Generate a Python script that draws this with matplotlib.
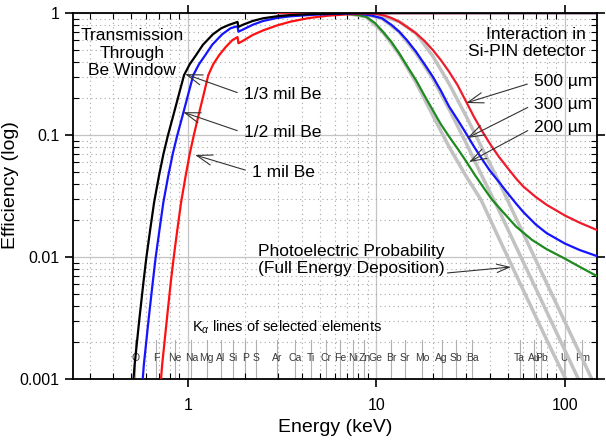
import numpy as np
import matplotlib
matplotlib.use('Agg')
import matplotlib.pyplot as plt
from matplotlib.ticker import LogLocator, NullFormatter

plt.rcParams['font.family'] = ['Liberation Sans', 'DejaVu Sans']
plt.rcParams['mathtext.fontset'] = 'custom'
plt.rcParams['mathtext.rm'] = 'Liberation Sans'
plt.rcParams['mathtext.it'] = 'Liberation Sans:italic'

# Be window transmission, energy in keV
be_third_E = [0.50, 0.52, 0.55, 0.58, 0.60, 0.63, 0.66, 0.70, 0.74, 0.78, 0.83, 0.89, 0.952,
              1.02, 1.10, 1.20, 1.356, 1.50, 1.65, 1.83, 1.85, 1.95, 2.2, 2.5, 2.96, 3.5,
              4.5, 6, 8, 10, 150]
be_third = [0.0006, 0.0013, 0.003, 0.0063, 0.0098, 0.017, 0.028, 0.046, 0.07, 0.098, 0.14,
            0.21, 0.31, 0.38, 0.45, 0.55, 0.67, 0.75, 0.80, 0.845, 0.77, 0.80, 0.86, 0.905,
            0.94, 0.962, 0.98, 0.99, 0.997, 1.0, 1.0]

be_half_E = [0.56, 0.582, 0.616, 0.65, 0.672, 0.706, 0.739, 0.784, 0.829, 0.874, 0.93, 0.997,
             1.066, 1.142, 1.232, 1.344, 1.519, 1.68, 1.83, 1.85, 1.95, 2.2, 2.5, 2.96, 3.5,
             4.5, 6, 8, 10, 150]
be_half = [0.0006, 0.0013, 0.003, 0.0063, 0.0098, 0.017, 0.028, 0.046, 0.07, 0.098, 0.14, 0.21,
           0.31, 0.38, 0.45, 0.55, 0.67, 0.75, 0.78, 0.703, 0.73, 0.80, 0.86, 0.91, 0.94,
           0.965, 0.985, 0.995, 1.0, 1.0]

be_one_E = [0.70, 0.728, 0.77, 0.81, 0.838, 0.878, 0.918, 0.97, 1.02, 1.07, 1.13, 1.205, 1.28,
            1.36, 1.46, 1.59, 1.72, 1.83, 1.85, 1.95, 2.2, 2.5, 2.96, 3.5, 4.4, 5.5, 7, 9, 12,
            150]
be_one = [0.0006, 0.0013, 0.003, 0.0063, 0.0098, 0.017, 0.028, 0.046, 0.07, 0.098, 0.14, 0.21,
          0.31, 0.38, 0.45, 0.53, 0.60, 0.635, 0.565, 0.59, 0.66, 0.72, 0.79, 0.85, 0.91, 0.95,
          0.975, 0.99, 0.998, 1.0]

# Si-PIN interaction efficiency
si500_E = [3, 8, 9, 10, 11, 12, 13.2, 14.5, 16.2, 18, 19.9, 22, 24.3, 27, 29.9, 33, 36.6, 40,
           44.6, 50, 55, 60, 70, 80, 100, 120, 150]
si500 = [1.0, 0.998, 0.993, 0.982, 0.955, 0.91, 0.849, 0.77, 0.682, 0.59, 0.498, 0.41, 0.33,
         0.255, 0.188, 0.14, 0.106, 0.085, 0.0665, 0.053, 0.0441, 0.038, 0.0311, 0.0268,
         0.0219, 0.0191, 0.0165]
si300_E = [3, 7, 8.4, 9.5, 10.7, 12, 13.2, 14.5, 16.2, 18, 19.9, 22, 24.3, 27, 29.9, 33, 36.6,
           40, 44.6, 50, 55, 60, 70, 80, 100, 120, 150]
si300 = [1.0, 0.998, 0.98, 0.95, 0.905, 0.80, 0.703, 0.60, 0.482, 0.38, 0.301, 0.23, 0.171,
         0.133, 0.103, 0.08, 0.0625, 0.051, 0.0414, 0.033, 0.0275, 0.0235, 0.0185, 0.0157,
         0.0129, 0.0114, 0.0101]
si200_E = [3, 6, 7.2, 8, 8.8, 9.8, 10.8, 12, 13.2, 14.5, 16.2, 18, 19.9, 22, 24.3, 27, 29.9,
           33, 36.6, 41, 48, 55, 67, 80, 100, 120, 150]
si200 = [1.0, 0.998, 0.98, 0.96, 0.933, 0.83, 0.703, 0.58, 0.467, 0.37, 0.282, 0.21, 0.160,
         0.122, 0.097, 0.077, 0.061, 0.048, 0.038, 0.0296, 0.0225, 0.0178, 0.0138, 0.0116,
         0.0097, 0.0083, 0.0069]

# photoelectric probability (gray)
pe200_E = [7, 8.8, 10.8, 13.2, 16.2, 19.9, 24.3, 29.9, 36, 45, 60, 80, 101, 120]
pe200 = [0.99, 0.93, 0.70, 0.46, 0.27, 0.145, 0.08, 0.046, 0.0292, 0.0139, 0.0054, 0.0021,
         0.001, 0.0006]
pe300_E = [8.4, 10.7, 13.2, 16.2, 19.9, 24.3, 29.9, 36.6, 44.6, 55, 70, 90, 118, 135]
pe300 = [0.99, 0.90, 0.70, 0.47, 0.29, 0.163, 0.086, 0.045, 0.0243, 0.0122, 0.00555, 0.00243,
         0.001, 0.00064]
pe500_E = [10, 13.2, 16.2, 19.9, 24.3, 29.9, 36.6, 44.6, 55, 70, 90, 110, 139, 155]
pe500 = [0.98, 0.85, 0.684, 0.444, 0.263, 0.143, 0.0765, 0.0416, 0.0209, 0.0095, 0.00416,
         0.00216, 0.001, 0.0007]

# K-alpha lines of selected elements
elements = ['O', 'F', 'Ne', 'Na', 'Mg', 'Al', 'Si', 'P', 'S', 'Ar', 'Ca', 'Ti', 'Cr', 'Fe',
            'Ni', 'Zn', 'Ge', 'Br', 'Sr', 'Mo', 'Ag', 'Sb', 'Ba', 'Ta', 'Au', 'Pb', 'U', 'Fm']
kalpha = [0.525, 0.677, 0.849, 1.041, 1.254, 1.487, 1.740, 2.013, 2.307, 2.957, 3.691, 4.510,
          5.414, 6.403, 7.477, 8.637, 9.885, 11.92, 14.16, 17.48, 22.16, 26.36, 32.19, 57.52,
          68.80, 74.97, 98.43, 124.0]

fig = plt.figure(figsize=(6.06, 4.44), dpi=100)
ax = fig.add_axes([0.1205, 0.1464, 0.8645, 0.8243])
ax.set_xscale('log')
ax.set_yscale('log')
ax.set_xlim(0.245, 148)
ax.set_ylim(0.001, 1)

ax.grid(which='major', color='#c4c4c4', lw=0.9, ls='-', zorder=0)
ax.grid(which='minor', color='#a8a8a8', lw=0.8, ls=(0, (1, 3)), zorder=0)

for E in kalpha:
    ax.plot([E, E], [0.001, 0.0021], color='#b0b0b0', lw=0.8, zorder=1)
for name, E in zip(elements, kalpha):
    ax.text(E, 0.00148, name, fontsize=7.5, ha='center', va='center', color='#3a3a3a',
            zorder=2)

gray = '#c2c2c2'
ax.plot(pe200_E, pe200, color=gray, lw=2.5, zorder=2)
ax.plot(pe300_E, pe300, color=gray, lw=2.5, zorder=2)
ax.plot(pe500_E, pe500, color=gray, lw=2.5, zorder=2)

ax.plot(si200_E, si200, color='#1f8a1f', lw=1.6, zorder=3)
ax.plot(si300_E, si300, color='#1414ff', lw=1.6, zorder=3)
ax.plot(si500_E, si500, color='#ee1c2a', lw=1.6, zorder=3)

ax.plot(be_one_E, be_one, color='#ff1010', lw=1.6, zorder=4)
ax.plot(be_half_E, be_half, color='#1414ff', lw=1.6, zorder=4)
ax.plot(be_third_E, be_third, color='black', lw=1.6, zorder=4)

ax.set_xticks([1, 10, 100])
ax.set_xticklabels(['1', '10', '100'])
ax.xaxis.set_minor_locator(LogLocator(base=10, subs=np.arange(2, 10)))
ax.xaxis.set_minor_formatter(NullFormatter())
ax.set_yticks([0.001, 0.01, 0.1, 1])
ax.set_yticklabels(['0.001', '0.01', '0.1', '1'])
ax.yaxis.set_minor_locator(LogLocator(base=10, subs=np.arange(2, 10)))
ax.yaxis.set_minor_formatter(NullFormatter())
ax.tick_params(which='major', direction='out', length=6, width=1.2, labelsize=11.5,
               top=True, right=True, colors='black')
ax.tick_params(which='minor', direction='in', length=4, width=0.8, top=True, right=True)
ax.tick_params(axis='x', pad=8)
for s in ax.spines.values():
    s.set_linewidth(1.3)

ax.set_xlabel('Energy (keV)', fontsize=14, labelpad=4)
ax.set_ylabel('Efficiency (log)', fontsize=14)
ax.yaxis.set_label_coords(-0.104, 0.53)

fs = 12.5
ax.text(0.505, 0.47, 'Transmission\nThrough\nBe Window', fontsize=fs, ha='center',
        va='center', linespacing=1.2, zorder=5)
ax.text(129, 0.565, 'Interaction in\nSi-PIN detector', fontsize=fs, ha='right',
        va='center', linespacing=1.2, zorder=5)
ax.text(2.35, 0.0094, 'Photoelectric Probability\n(Full Energy Deposition)', fontsize=fs,
        ha='left', va='center', linespacing=1.2, zorder=5)
ax.text(1.05, 0.00267, r'K$_\alpha$ lines of selected elements', fontsize=10.5, ha='left',
        va='center', zorder=5)

arw = dict(arrowstyle='->, head_length=0.9, head_width=0.3', color='#333333', lw=0.8,
           shrinkA=3, shrinkB=0)
for label, tip, tpos in [('1/3 mil Be', (0.964, 0.316), (1.98, 0.213)),
                         ('1/2 mil Be', (0.941, 0.154), (1.98, 0.104)),
                         ('1 mil Be', (1.089, 0.0686), (2.18, 0.0497))]:
    ax.annotate(label, xy=tip, xytext=tpos, fontsize=fs, ha='left', va='center',
                arrowprops=dict(arw, relpos=(0, 0.5)), zorder=5)
for label, tip, ty in [('500 µm', (29.9, 0.183), 0.272),
                       ('300 µm', (30.3, 0.0944), 0.179),
                       ('200 µm', (31.0, 0.060), 0.116)]:
    ax.annotate(label, xy=tip, xytext=(140, ty), fontsize=fs, ha='right', va='center',
                arrowprops=dict(arw, relpos=(0, 0.5)), zorder=5)
ax.annotate('', xy=(51.8, 0.00828), xytext=(23.8, 0.0074),
            arrowprops=dict(arw, shrinkA=0), zorder=5)

fig.savefig('out.png', dpi=100)
